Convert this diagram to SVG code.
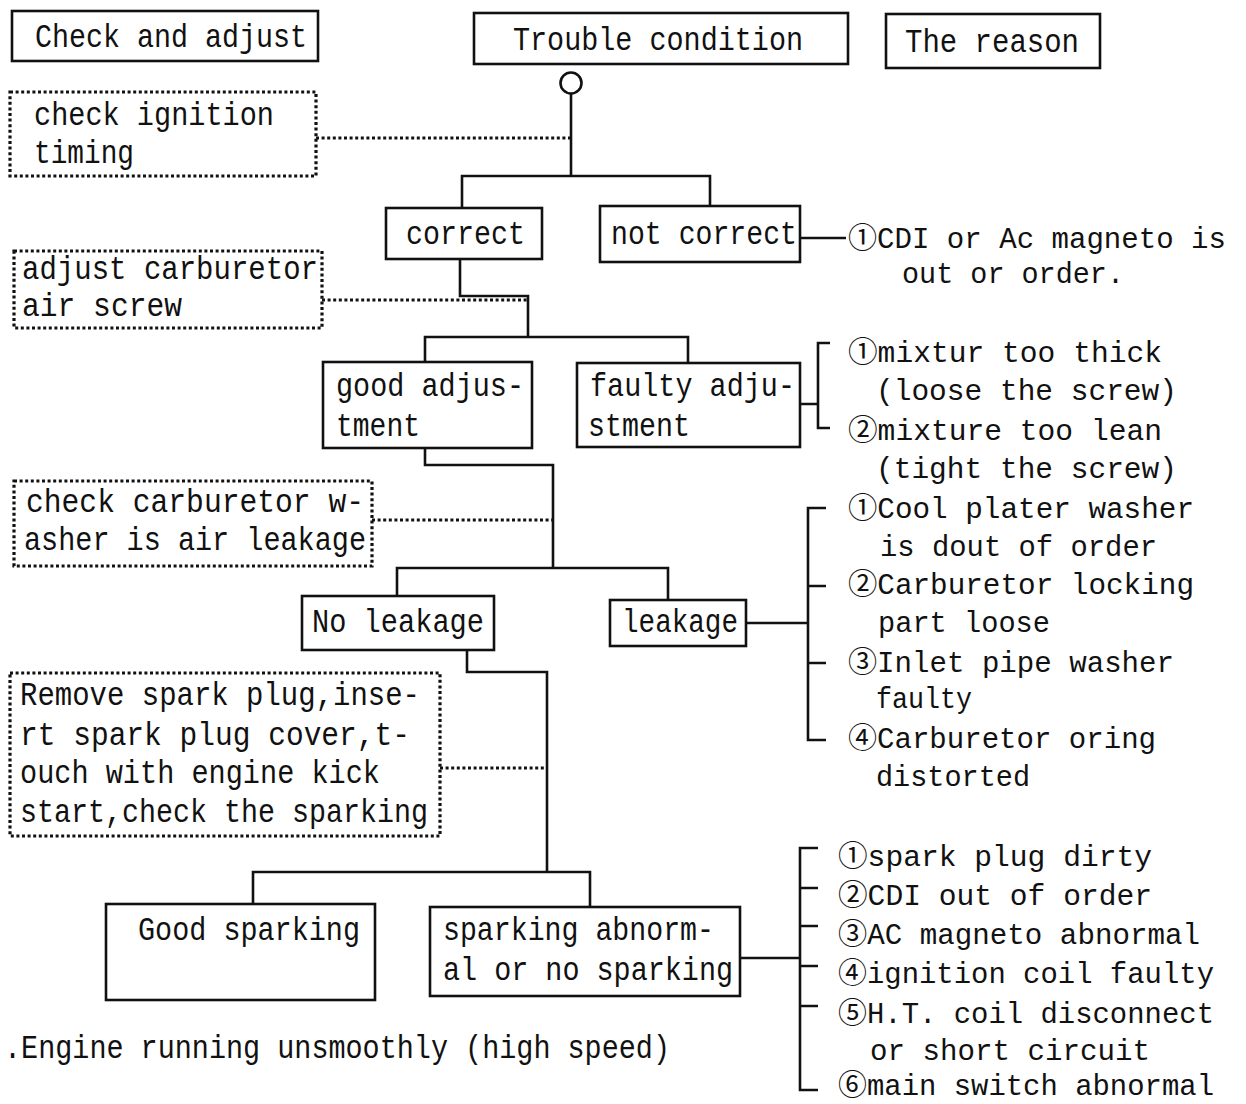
<svg xmlns="http://www.w3.org/2000/svg" width="1246" height="1104" viewBox="0 0 1246 1104">
<style>
.bx{fill:none;stroke:#111;stroke-width:2.6}
.dt{fill:none;stroke:#111;stroke-width:3.2;stroke-dasharray:3 2.6}
.ln{fill:none;stroke:#111;stroke-width:2.6}
text{font-family:"Liberation Mono","DejaVu Sans Mono","Noto Sans CJK JP",monospace;font-size:33px;fill:#111}
.rs text{font-size:30px}
</style>
<rect width="1246" height="1104" fill="#fff"/>
<g id="hdr-check"><rect class="bx" x="12" y="11" width="306" height="50"/><text x="35" y="47" textLength="272" lengthAdjust="spacingAndGlyphs">Check and adjust</text></g>
<g id="hdr-trouble"><rect class="bx" x="474" y="13" width="374" height="51"/><text x="513" y="50" textLength="290" lengthAdjust="spacingAndGlyphs">Trouble condition</text></g>
<g id="hdr-reason"><rect class="bx" x="886" y="14" width="214" height="54"/><text x="905" y="52" textLength="174" lengthAdjust="spacingAndGlyphs">The reason</text></g>

<g id="start"><circle class="bx" cx="571" cy="83" r="10.5"/></g>

<g id="n-ignition"><rect class="dt" x="10" y="92" width="306" height="84"/><text x="34" y="125" textLength="240" lengthAdjust="spacingAndGlyphs">check ignition</text><text x="34" y="163" textLength="100" lengthAdjust="spacingAndGlyphs">timing</text></g>
<g id="n-correct"><rect class="bx" x="386" y="208" width="156" height="51"/><text x="406" y="244" textLength="119" lengthAdjust="spacingAndGlyphs">correct</text></g>
<g id="n-notcorrect"><rect class="bx" x="600" y="206" width="200" height="56"/><text x="611" y="244" textLength="186" lengthAdjust="spacingAndGlyphs">not correct</text></g>
<g id="r-notcorrect" class="rs"><text x="848" y="248" textLength="378" lengthAdjust="spacingAndGlyphs">①CDI or Ac magneto is</text><text x="902" y="283" textLength="222" lengthAdjust="spacingAndGlyphs">out or order.</text></g>

<g id="n-aircrew"><rect class="dt" x="14" y="251" width="308" height="77"/><text x="22" y="279" textLength="296" lengthAdjust="spacingAndGlyphs">adjust carburetor</text><text x="22" y="316" textLength="160" lengthAdjust="spacingAndGlyphs">air screw</text></g>
<g id="n-good"><rect class="bx" x="323" y="362" width="209" height="86"/><text x="336" y="396" textLength="188" lengthAdjust="spacingAndGlyphs">good adjus-</text><text x="336" y="436" textLength="84" lengthAdjust="spacingAndGlyphs">tment</text></g>
<g id="n-faulty"><rect class="bx" x="577" y="363" width="223" height="84"/><text x="590" y="396" textLength="205" lengthAdjust="spacingAndGlyphs">faulty adju-</text><text x="588" y="436" textLength="102" lengthAdjust="spacingAndGlyphs">stment</text></g>
<g id="r-faulty" class="rs"><text x="848" y="362" textLength="314" lengthAdjust="spacingAndGlyphs">①mixtur too thick</text><text x="876" y="400" textLength="301" lengthAdjust="spacingAndGlyphs">(loose the screw)</text><text x="848" y="440" textLength="314" lengthAdjust="spacingAndGlyphs">②mixture too lean</text><text x="876" y="478" textLength="301" lengthAdjust="spacingAndGlyphs">(tight the screw)</text></g>

<g id="n-washer"><rect class="dt" x="14" y="481" width="358" height="85"/><text x="26" y="512" textLength="338" lengthAdjust="spacingAndGlyphs">check carburetor w-</text><text x="24" y="550" textLength="342" lengthAdjust="spacingAndGlyphs">asher is air leakage</text></g>
<g id="n-noleak"><rect class="bx" x="302" y="596" width="192" height="54"/><text x="312" y="632" textLength="172" lengthAdjust="spacingAndGlyphs">No leakage</text></g>
<g id="n-leak"><rect class="bx" x="610" y="600" width="136" height="46"/><text x="622" y="632" textLength="116" lengthAdjust="spacingAndGlyphs">leakage</text></g>
<g id="r-leak" class="rs"><text x="848" y="518" textLength="346" lengthAdjust="spacingAndGlyphs">①Cool plater washer</text><text x="880" y="556" textLength="277" lengthAdjust="spacingAndGlyphs">is dout of order</text><text x="848" y="594" textLength="346" lengthAdjust="spacingAndGlyphs">②Carburetor locking</text><text x="878" y="632" textLength="172" lengthAdjust="spacingAndGlyphs">part loose</text><text x="848" y="672" textLength="326" lengthAdjust="spacingAndGlyphs">③Inlet pipe washer</text><text x="876" y="708" textLength="96" lengthAdjust="spacingAndGlyphs">faulty</text><text x="848" y="748" textLength="308" lengthAdjust="spacingAndGlyphs">④Carburetor oring</text><text x="876" y="786" textLength="154" lengthAdjust="spacingAndGlyphs">distorted</text></g>

<g id="n-spark"><rect class="dt" x="10" y="673" width="430" height="163"/><text x="20" y="705" textLength="400" lengthAdjust="spacingAndGlyphs">Remove spark plug,inse-</text><text x="20" y="745" textLength="390" lengthAdjust="spacingAndGlyphs">rt spark plug cover,t-</text><text x="20" y="783" textLength="360" lengthAdjust="spacingAndGlyphs">ouch with engine kick</text><text x="20" y="822" textLength="408" lengthAdjust="spacingAndGlyphs">start,check the sparking</text></g>
<g id="n-goodspark"><rect class="bx" x="106" y="904" width="269" height="96"/><text x="138" y="940" textLength="222" lengthAdjust="spacingAndGlyphs">Good sparking</text></g>
<g id="n-abnormal"><rect class="bx" x="430" y="907" width="310" height="89"/><text x="443" y="940" textLength="271" lengthAdjust="spacingAndGlyphs">sparking abnorm-</text><text x="443" y="980" textLength="290" lengthAdjust="spacingAndGlyphs">al or no sparking</text></g>
<g id="r-abnormal" class="rs"><text x="838" y="866" textLength="314" lengthAdjust="spacingAndGlyphs">①spark plug dirty</text><text x="838" y="905" textLength="314" lengthAdjust="spacingAndGlyphs">②CDI out of order</text><text x="838" y="944" textLength="362" lengthAdjust="spacingAndGlyphs">③AC magneto abnormal</text><text x="838" y="983" textLength="376" lengthAdjust="spacingAndGlyphs">④ignition coil faulty</text><text x="838" y="1023" textLength="376" lengthAdjust="spacingAndGlyphs">⑤H.T. coil disconnect</text><text x="870" y="1060" textLength="280" lengthAdjust="spacingAndGlyphs">or short circuit</text><text x="838" y="1095" textLength="376" lengthAdjust="spacingAndGlyphs">⑥main switch abnormal</text></g>

<g id="caption"><text x="4" y="1058" textLength="666" lengthAdjust="spacingAndGlyphs">.Engine running unsmoothly (high speed)</text></g>

<g id="connectors">
<path class="ln" d="M571 93.5V176M462 208V176H710V206"/>
<path class="dt" d="M316 138H571"/>
<path class="ln" d="M800 238H846"/>
<path class="ln" d="M460 259V296H528V337M425 362V337H688V363"/>
<path class="dt" d="M322 300H528"/>
<path class="ln" d="M800 404H818M830 343H818V428H830"/>
<path class="ln" d="M425 448V465H553V568M397 596V568H668V600"/>
<path class="dt" d="M372 520H553"/>
<path class="ln" d="M746 623H808M826 508H808V740H826M808 586H826M808 663H826"/>
<path class="ln" d="M467 650V672H547V872M253 904V872H590V907"/>
<path class="dt" d="M440 768H547"/>
<path class="ln" d="M740 958H800M818 848H800V1090H818M800 888H818M800 926H818M800 966H818M800 1006H818"/>
</g>
</svg>
